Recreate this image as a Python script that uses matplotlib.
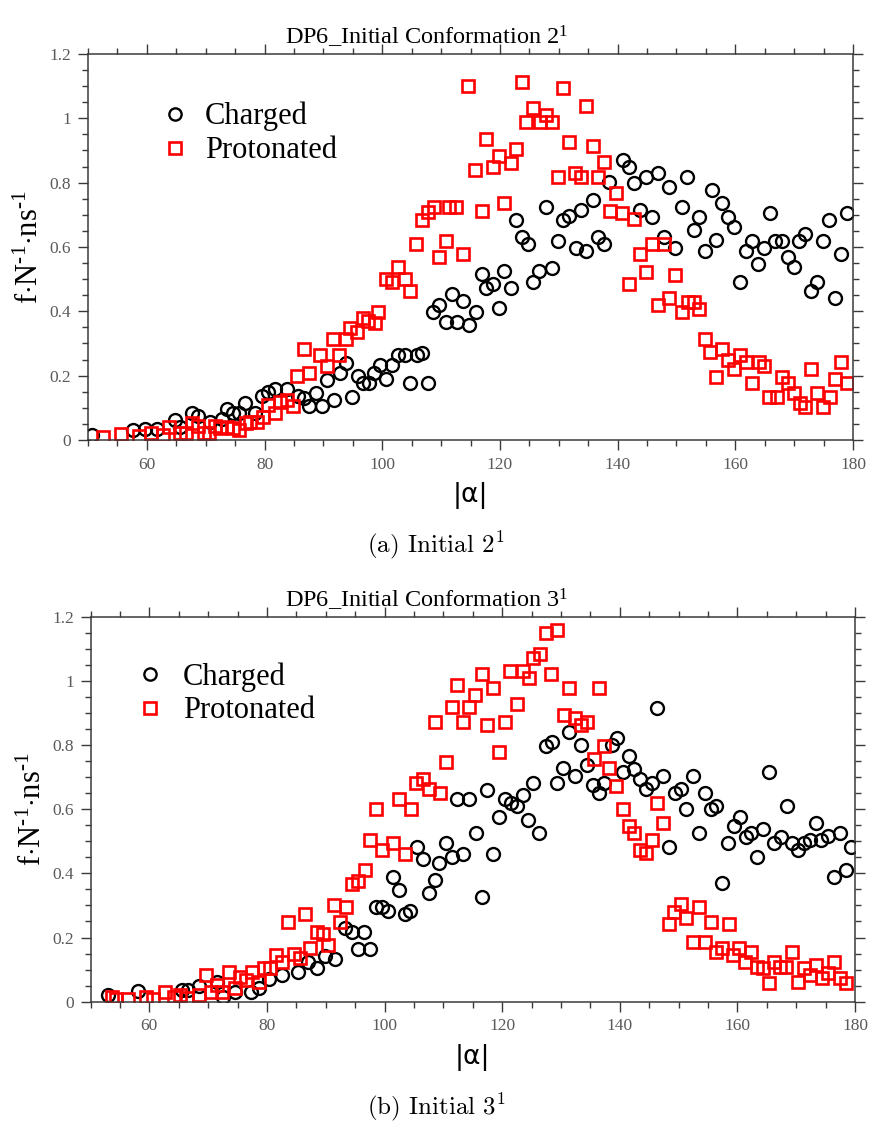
import matplotlib
matplotlib.use("Agg")
import matplotlib.pyplot as plt
from matplotlib.ticker import MultipleLocator, FuncFormatter

plt.rcParams["font.family"] = ["Liberation Serif", "DejaVu Serif"]
plt.rcParams["mathtext.fontset"] = "custom"
plt.rcParams["mathtext.rm"] = "Liberation Serif"
plt.rcParams["mathtext.it"] = "Liberation Serif:italic"

# ---- Initial conformation 2^1 ----
c2_alpha = [50.6, 57.7, 59.7, 61.7, 64.7, 65.6, 67.6, 68.7, 70.7, 72.7, 73.6, 74.7, 75.7, 76.6, 78.4,
            79.5, 80.6, 81.8, 83.8, 85.7, 86.7, 87.6, 88.7, 89.7, 90.6, 91.8, 92.8, 93.8, 94.8,
            95.8, 96.8, 97.7, 98.6, 99.7, 100.6, 101.7, 102.7, 103.9, 104.8, 105.9, 106.8, 107.8,
            108.7, 109.7, 110.8, 111.8, 112.7, 113.8, 114.7, 115.9, 116.9, 117.7, 118.9, 119.8,
            120.7, 121.8, 122.8, 123.8, 124.8, 125.7, 126.7, 127.8, 128.9, 129.8, 130.8, 131.8,
            132.9, 133.8, 134.7, 135.8, 136.7, 137.7, 138.6, 140.9, 141.9, 142.8, 143.8, 144.8,
            145.8, 146.8, 147.8, 148.8, 149.7, 150.9, 151.8, 153.0, 153.9, 154.8, 156.0, 156.8,
            157.8, 158.8, 159.8, 160.8, 161.8, 162.9, 163.9, 164.9, 165.9, 166.8, 167.9, 168.9,
            169.9, 170.8, 171.8, 172.8, 173.8, 174.9, 175.9, 176.9, 178.0, 178.9]
c2_rate = [0.016, 0.031, 0.034, 0.034, 0.062, 0.041, 0.085, 0.076, 0.057, 0.064, 0.095, 0.083, 0.083,
           0.114, 0.083, 0.138, 0.150, 0.157, 0.157, 0.138, 0.130, 0.106, 0.145, 0.106, 0.187, 0.124,
           0.207, 0.240, 0.135, 0.200, 0.178, 0.178, 0.209, 0.233, 0.189, 0.233, 0.264, 0.264, 0.178,
           0.264, 0.271, 0.178, 0.399, 0.420, 0.368, 0.453, 0.368, 0.432, 0.357, 0.399, 0.515, 0.471,
           0.484, 0.409, 0.525, 0.474, 0.684, 0.632, 0.608, 0.492, 0.525, 0.725, 0.536, 0.619, 0.684,
           0.697, 0.598, 0.715, 0.588, 0.746, 0.632, 0.608, 0.803, 0.872, 0.850, 0.800, 0.715, 0.818,
           0.694, 0.829, 0.632, 0.788, 0.598, 0.723, 0.818, 0.653, 0.694, 0.588, 0.777, 0.622, 0.736,
           0.694, 0.661, 0.492, 0.588, 0.619, 0.546, 0.598, 0.705, 0.619, 0.619, 0.570, 0.537, 0.619,
           0.640, 0.463, 0.492, 0.619, 0.684, 0.440, 0.578, 0.705]

p2_alpha = [52.6, 55.6, 58.7, 60.7, 62.8, 63.8, 65.6, 66.7, 67.6, 68.7, 69.7, 70.6, 71.6, 72.4, 73.6,
            74.7, 75.7, 76.8, 77.5, 78.7, 79.8, 80.6, 81.8, 82.6, 83.8, 84.8, 85.6, 86.7, 87.6, 89.5,
            90.6, 91.7, 92.7, 93.8, 94.6, 95.7, 96.7, 97.5, 98.8, 99.3, 100.6, 101.7, 102.7, 103.9,
            104.8, 105.7, 106.8, 107.7, 108.8, 109.7, 110.8, 111.4, 112.6, 113.8, 114.6, 115.8, 116.9,
            117.7, 118.9, 119.8, 120.7, 121.8, 122.7, 123.7, 124.5, 125.7, 126.8, 127.9, 128.8, 129.8,
            130.8, 131.7, 132.8, 133.8, 134.7, 135.8, 136.7, 137.7, 138.7, 139.8, 140.8, 141.9, 142.8,
            143.8, 144.8, 145.8, 146.8, 147.8, 148.7, 149.7, 150.9, 151.9, 153.0, 153.9, 154.8, 155.7,
            156.8, 157.8, 158.8, 159.8, 160.8, 161.9, 162.9, 164.0, 164.9, 165.7, 167.0, 167.9, 168.9,
            169.9, 171.0, 171.9, 172.8, 173.8, 174.9, 176.1, 176.9, 178.0, 178.9]
p2_rate = [0.010, 0.019, 0.013, 0.021, 0.016, 0.041, 0.021, 0.021, 0.054, 0.045, 0.021, 0.021, 0.043,
           0.036, 0.041, 0.036, 0.031, 0.052, 0.057, 0.055, 0.072, 0.109, 0.083, 0.119, 0.124, 0.106,
           0.199, 0.283, 0.207, 0.264, 0.230, 0.314, 0.264, 0.313, 0.347, 0.337, 0.380, 0.371, 0.365,
           0.399, 0.502, 0.492, 0.537, 0.502, 0.463, 0.608, 0.684, 0.710, 0.725, 0.568, 0.620, 0.725,
           0.725, 0.578, 1.100, 0.839, 0.712, 0.935, 0.850, 0.883, 0.736, 0.860, 0.904, 1.114, 0.990,
           1.031, 0.990, 1.010, 0.990, 0.818, 1.093, 0.927, 0.829, 0.818, 1.039, 0.915, 0.818, 0.863,
           0.712, 0.769, 0.705, 0.484, 0.686, 0.578, 0.523, 0.608, 0.420, 0.608, 0.440, 0.513, 0.399,
           0.430, 0.430, 0.407, 0.314, 0.273, 0.197, 0.283, 0.249, 0.220, 0.264, 0.242, 0.176, 0.242,
           0.231, 0.135, 0.135, 0.197, 0.176, 0.145, 0.114, 0.104, 0.220, 0.147, 0.104, 0.135, 0.189,
           0.242, 0.176]

# ---- Initial conformation 3^1 ----
c3_alpha = [52.9, 58.0, 65.5, 66.5, 68.4, 71.5, 72.5, 74.5, 77.3, 78.7, 80.4, 82.5, 85.3, 86.9, 88.5,
            89.8, 91.5, 93.2, 94.5, 95.5, 96.5, 97.6, 98.5, 99.5, 100.6, 101.4, 102.5, 103.4, 104.4,
            105.5, 106.5, 107.5, 108.5, 109.3, 110.4, 111.4, 112.3, 113.4, 114.4, 115.6, 116.6, 117.5,
            118.5, 119.5, 120.5, 121.5, 122.5, 123.5, 124.4, 125.3, 126.3, 127.4, 128.4, 129.3, 130.4,
            131.4, 132.4, 133.4, 134.4, 135.4, 136.5, 137.3, 138.7, 139.6, 140.5, 141.5, 142.4, 143.4,
            144.4, 145.4, 146.4, 147.4, 148.4, 149.4, 150.4, 151.3, 152.5, 153.4, 154.5, 155.5, 156.4,
            157.4, 158.4, 159.4, 160.4, 161.4, 162.4, 163.4, 164.3, 165.4, 166.3, 167.4, 168.4, 169.3,
            170.3, 171.3, 172.3, 173.4, 174.3, 175.4, 176.4, 177.4, 178.4, 179.3]
c3_rate = [0.021, 0.034, 0.035, 0.035, 0.050, 0.060, 0.016, 0.030, 0.031, 0.042, 0.070, 0.083, 0.094,
           0.123, 0.104, 0.143, 0.132, 0.229, 0.216, 0.163, 0.216, 0.163, 0.294, 0.296, 0.283, 0.390,
           0.348, 0.272, 0.283, 0.483, 0.444, 0.338, 0.379, 0.431, 0.494, 0.450, 0.631, 0.460, 0.631,
           0.527, 0.327, 0.660, 0.460, 0.577, 0.631, 0.620, 0.610, 0.644, 0.566, 0.683, 0.527, 0.798,
           0.810, 0.683, 0.727, 0.842, 0.704, 0.800, 0.738, 0.675, 0.651, 0.683, 0.800, 0.821, 0.717,
           0.767, 0.725, 0.693, 0.662, 0.683, 0.915, 0.704, 0.483, 0.650, 0.662, 0.600, 0.704, 0.527,
           0.650, 0.600, 0.610, 0.369, 0.494, 0.548, 0.577, 0.514, 0.527, 0.452, 0.537, 0.717, 0.494,
           0.514, 0.610, 0.494, 0.473, 0.494, 0.504, 0.556, 0.504, 0.517, 0.390, 0.527, 0.410, 0.483]

p3_alpha = [53.6, 54.4, 56.4, 59.5, 60.7, 62.7, 64.2, 65.2, 66.4, 68.5, 69.6, 70.5, 71.5, 72.4, 73.5,
            74.5, 75.5, 76.5, 77.4, 78.6, 79.5, 80.6, 81.6, 82.5, 83.5, 84.6, 85.6, 86.5, 87.4, 88.5,
            89.5, 90.4, 91.4, 92.5, 93.5, 94.5, 95.5, 96.6, 97.6, 98.6, 99.5, 101.4, 102.5, 103.5,
            104.5, 105.4, 106.5, 107.5, 108.5, 109.5, 110.5, 111.4, 112.4, 113.4, 114.3, 115.4, 116.6,
            117.5, 118.5, 119.5, 120.5, 121.4, 122.5, 123.5, 124.5, 125.3, 126.4, 127.4, 128.3, 129.3,
            130.5, 131.3, 132.4, 133.4, 134.5, 135.7, 136.5, 137.4, 138.2, 139.3, 140.5, 141.5, 142.4,
            143.5, 144.4, 145.4, 146.4, 147.4, 148.4, 149.2, 150.4, 151.3, 152.5, 153.5, 154.5, 155.5,
            156.4, 157.4, 158.5, 159.3, 160.3, 161.3, 162.3, 163.3, 164.3, 165.4, 166.3, 167.3, 168.3,
            169.3, 170.3, 171.3, 172.4, 173.4, 174.4, 175.4, 176.4, 177.4, 178.4]
p3_rate = [0.016, 0.008, 0.008, 0.016, 0.008, 0.031, 0.016, 0.021, 0.010, 0.021, 0.083, 0.031, 0.052,
           0.031, 0.094, 0.042, 0.078, 0.068, 0.094, 0.062, 0.104, 0.104, 0.146, 0.125, 0.249, 0.149,
           0.135, 0.272, 0.166, 0.218, 0.211, 0.177, 0.300, 0.249, 0.294, 0.366, 0.376, 0.410, 0.504,
           0.600, 0.473, 0.494, 0.631, 0.460, 0.600, 0.683, 0.693, 0.662, 0.871, 0.651, 0.748, 0.917,
           0.987, 0.871, 0.917, 0.956, 1.022, 0.861, 0.977, 0.777, 0.871, 1.031, 0.927, 1.031, 1.010,
           1.070, 1.083, 1.148, 1.022, 1.157, 0.894, 0.977, 0.883, 0.863, 0.871, 0.757, 0.977, 0.798,
           0.727, 0.672, 0.600, 0.548, 0.527, 0.473, 0.462, 0.504, 0.620, 0.556, 0.242, 0.280, 0.305,
           0.260, 0.187, 0.294, 0.187, 0.249, 0.156, 0.166, 0.242, 0.146, 0.166, 0.125, 0.156, 0.109,
           0.104, 0.057, 0.125, 0.109, 0.109, 0.156, 0.062, 0.104, 0.083, 0.114, 0.073, 0.090, 0.125,
           0.073, 0.059]

series_labels = ["Charged", "Protonated"]
panel_titles = ["DP6_Initial Conformation 2$^{1}$", "DP6_Initial Conformation 3$^{1}$"]
captions = ["(a) Initial $2^{1}$", "(b) Initial $3^{1}$"]
x_label = "|α|"
# short hyphen (U+2010) in the exponents instead of a math minus
y_label = "f$\\cdot$N$^{\u20101}$$\\cdot$ns$^{\u20101}$"

W, H = 872, 1122
fig = plt.figure(figsize=(W / 100, H / 100), dpi=100)


def frac_box(left, top, right, bottom):
    return [left / W, 1 - bottom / H, (right - left) / W, (bottom - top) / H]


panels = [
    dict(box=frac_box(88, 54, 853, 440), c=(c2_alpha, c2_rate), p=(p2_alpha, p2_rate),
         leg=(0.104, 0.794), pad=0.72),
    dict(box=frac_box(90.5, 616.7, 855, 1001.7), c=(c3_alpha, c3_rate), p=(p3_alpha, p3_rate),
         leg=(0.068, 0.800), pad=0.82),
]

spine_col = "#3a3a3a"
tick_lab_col = "#5a5a5a"

for i, pn in enumerate(panels):
    ax = fig.add_axes(pn["box"])
    ax.plot(*pn["c"], linestyle="none", marker="o", ms=9.3, mfc="none", mec="black",
            mew=1.7, label=series_labels[0])
    ax.plot(*pn["p"], linestyle="none", marker="s", ms=9.3, mfc="none", mec="#ff0000",
            mew=1.9, label=series_labels[1])
    ax.set_xlim(50, 180)
    ax.set_ylim(0, 1.2)
    ax.xaxis.set_major_locator(MultipleLocator(20))
    ax.xaxis.set_minor_locator(MultipleLocator(5))
    ax.yaxis.set_major_locator(MultipleLocator(0.2))
    ax.yaxis.set_minor_locator(MultipleLocator(0.05))
    ax.xaxis.set_major_formatter(FuncFormatter(lambda v, p: "" if v < 55 else f"{v:g}"))
    ax.yaxis.set_major_formatter(FuncFormatter(lambda v, p: f"{round(v, 2):g}"))
    ax.tick_params(which="both", direction="out", top=True, right=True, color=spine_col,
                   width=1.0, labelcolor=tick_lab_col, labelsize=12.5)
    ax.tick_params(which="major", length=7, pad=5)
    ax.tick_params(which="minor", length=4)
    for s in ax.spines.values():
        s.set_color(spine_col)
        s.set_linewidth(1.1)

    ax.set_xlabel(x_label, family="DejaVu Sans", fontsize=19, labelpad=7)
    ax.set_ylabel(y_label, fontsize=22, labelpad=3)

    ax.legend(loc="center left", bbox_to_anchor=pn["leg"], frameon=False,
              fontsize=22, handlelength=0.5, handletextpad=pn["pad"],
              borderpad=0, borderaxespad=0, labelspacing=0.16, markerscale=0.95)

    # panel title and caption
    bx = pn["box"]
    title_y = bx[1] + bx[3] + 17 / H
    fig.text(427 / W, title_y, panel_titles[i], ha="center", va="center", fontsize=17.5)
    cap_y = bx[1] - 105 / H
    fig.text(0.5, cap_y, captions[i], ha="center", va="center", fontsize=18,
             family="cmr10", math_fontfamily="cm")

fig.savefig("out.png", dpi=100, facecolor="white")
